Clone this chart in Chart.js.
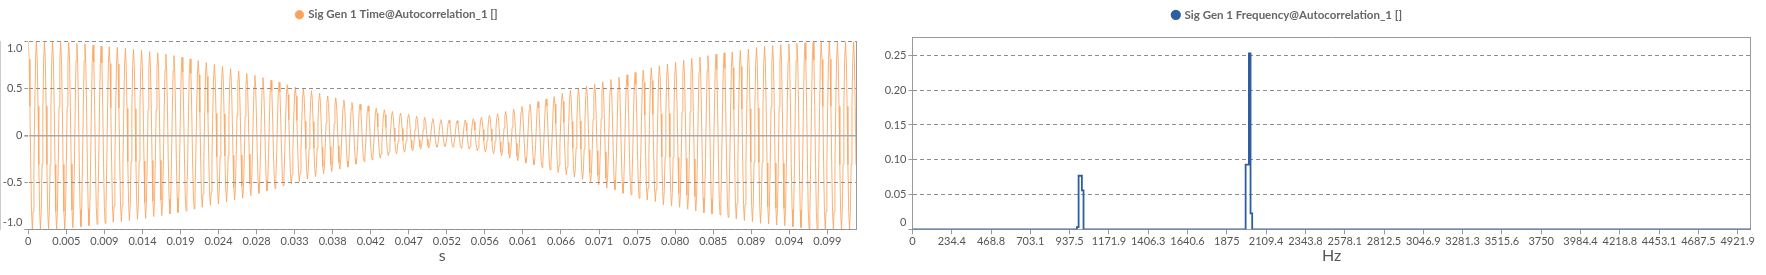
<!DOCTYPE html>
<html><head><meta charset="utf-8">
<script src="https://cdn.jsdelivr.net/npm/chart.js@4/dist/chart.umd.min.js"></script>
<style>
html,body{margin:0;padding:0;background:#fff;width:1766px;height:275px;overflow:hidden;}
#c1{position:absolute;left:0;top:0;}
#c2{position:absolute;left:870px;top:0;}
</style></head><body>
<canvas id="c1" width="870" height="275"></canvas>
<canvas id="c2" width="896" height="275"></canvas>
<script>
// ---------- Time chart (autocorrelation) ----------
const timeTitle = 'Sig Gen 1 Time@Autocorrelation_1 []';
const timeSampleInterval = 0.0001;   // s between samples
const timeAxisMax = 0.1023;          // s
// sample levels seen inside every ~1 ms period, as a fraction of that period's peak / trough
const timeCycleLevels = [1, 0.81, 0.31, -0.31, -0.81, -1, -0.81, -0.31, 0.31, 0.81];
// peak value of each period
const timePeaks = [
  1.0, 1.0, 1.0, 1.0, 0.99, 0.99, 0.98, 0.975, 0.962, 0.951,
  0.944, 0.937, 0.927, 0.916, 0.906, 0.892, 0.878, 0.867, 0.85, 0.832,
  0.815, 0.797, 0.776, 0.755, 0.734, 0.71, 0.685, 0.66, 0.64, 0.615,
  0.587, 0.566, 0.54, 0.515, 0.497, 0.476, 0.448, 0.42, 0.4, 0.378,
  0.35, 0.332, 0.315, 0.29, 0.273, 0.255, 0.238, 0.224, 0.205, 0.192,
  0.178, 0.168, 0.161, 0.157, 0.165, 0.178, 0.192, 0.213, 0.231, 0.255,
  0.28, 0.308, 0.332, 0.36, 0.388, 0.413, 0.448, 0.479, 0.5, 0.524,
  0.545, 0.57, 0.595, 0.62, 0.645, 0.67, 0.695, 0.72, 0.74, 0.76,
  0.78, 0.8, 0.82, 0.835, 0.85, 0.865, 0.88, 0.89, 0.905, 0.92,
  0.935, 0.948, 0.957, 0.965, 0.973, 0.98, 0.987, 0.992, 0.997, 1.0,
  1.0, 1.0, 1.0
];
// trough value of each period
const timeTroughs = [
  -1.0, -1.0, -1.0, -1.0, -1.0, -0.982, -0.972, -0.961, -0.947, -0.936,
  -0.925, -0.918, -0.907, -0.893, -0.883, -0.865, -0.854, -0.836, -0.822, -0.804,
  -0.783, -0.765, -0.744, -0.73, -0.705, -0.687, -0.669, -0.641, -0.616, -0.591,
  -0.566, -0.537, -0.516, -0.491, -0.466, -0.438, -0.409, -0.384, -0.359, -0.338,
  -0.306, -0.278, -0.26, -0.242, -0.217, -0.196, -0.178, -0.164, -0.146, -0.135,
  -0.125, -0.117, -0.125, -0.135, -0.146, -0.164, -0.178, -0.196, -0.217, -0.242,
  -0.27, -0.295, -0.313, -0.342, -0.367, -0.395, -0.42, -0.445, -0.47, -0.495,
  -0.527, -0.562, -0.58, -0.616, -0.633, -0.669, -0.687, -0.705, -0.74, -0.751,
  -0.765, -0.786, -0.804, -0.822, -0.836, -0.847, -0.872, -0.89, -0.907, -0.918,
  -0.936, -0.943, -0.954, -0.961, -0.972, -0.982, -0.993, -1.0, -1.0, -1.0,
  -1.0, -1.0, -1.0
];
const timeTickLabels = ['0','0.005','0.009','0.014','0.019','0.024','0.028','0.033','0.038','0.042','0.047','0.052','0.056','0.061','0.066','0.071','0.075','0.080','0.085','0.089','0.094','0.099'];
const timeTickStep = 0.0047027;
const timeYTicks = [-1, -0.5, 0, 0.5, 1];
const timeYLabels = ['-1.0', '-0.5', '0', '0.5', '1.0'];

// ---------- Frequency chart ----------
const freqTitle = 'Sig Gen 1 Frequency@Autocorrelation_1 []';
const freqHz  = [0, 976.6, 986.3, 996.1, 1005.9, 1015.6, 1025.4, 1982.4, 1992.2, 2001.9, 2011.7, 2021.5, 2031.3, 5000];
const freqMag = [0, 0, 0.003, 0.077, 0.077, 0.056, 0, 0, 0.093, 0.093, 0.253, 0.023, 0, 0];
const freqTickLabels = ['0','234.4','468.8','703.1','937.5','1171.9','1406.3','1640.6','1875','2109.4','2343.8','2578.1','2812.5','3046.9','3281.3','3515.6','3750','3984.4','4218.8','4453.1','4687.5','4921.9'];
const freqTickStep = 234.375;
const freqYTicks = [0, 0.05, 0.1, 0.15, 0.2, 0.25];
const freqYLabels = ['0', '0.05', '0.10', '0.15', '0.20', '0.25'];

// ---------- build point lists ----------
const timePoints = [];
for (let c = 0; c < timePeaks.length; c++) {
  for (let k = 0; k < timeCycleLevels.length; k++) {
    const n = c * timeCycleLevels.length + k;
    const t = n * timeSampleInterval;
    if (t > timeAxisMax + 1e-9) break;
    const lv = timeCycleLevels[k];
    let y;
    if (lv < 0) y = -lv * timeTroughs[c];
    else if (k < timeCycleLevels.length / 2) y = lv * timePeaks[c];
    else y = lv * (timePeaks[c + 1] !== undefined ? timePeaks[c + 1] : timePeaks[c]);
    timePoints.push({x: t, y: y});
  }
}
const freqPoints = freqHz.map((f, i) => ({x: f, y: freqMag[i]}));

// ---------- styling ----------
Chart.defaults.font.family = 'Lato, "Open Sans", sans-serif';
const tickFont = {size: 11};
const tickColor = '#555';
const gridGray = '#8e8e8e';
const frameGray = '#9a9a9a';

const legendShift = {
  id: 'legendShift',
  afterLayout(chart, args, opts) {
    const lg = chart.legend;
    if (!lg) return;
    lg.left += opts.dx; lg.right += opts.dx;
    lg.top += opts.dy; lg.bottom += opts.dy;
  }
};

function legendOpts() {
  return {
    display: true, position: 'top',
    labels: {usePointStyle: true, pointStyle: 'circle', boxWidth: 6, boxHeight: 6,
             padding: 10, color: '#666', font: {size: 11.5, weight: 'bold'}}
  };
}

function frameAxis(pos) {
  return {
    type: 'linear', position: pos, display: true,
    ticks: {display: false}, grid: {drawOnChartArea: false, drawTicks: false},
    border: {display: true, color: frameGray, width: 1},
    afterFit(s) { if (pos === 'top') s.height = 0; else s.width = 0; }
  };
}

// labels at the plot edge sit inside it, as in the original
function edgeLabel(labels, i, topInside) {
  const t = labels[i];
  if (i === 0) return [t, ''];
  if (topInside && i === labels.length - 1) return ['', t];
  return t;
}

// ---------- left chart ----------
new Chart(document.getElementById('c1'), {
  type: 'line',
  data: {datasets: [{
    label: timeTitle, data: timePoints,
    borderColor: 'rgb(249,168,100)', backgroundColor: 'rgb(248,163,88)',
    borderWidth: 0.9, pointRadius: 0, tension: 0, fill: false
  }]},
  options: {
    responsive: false, animation: false, devicePixelRatio: 1,
    layout: {padding: {left: 0, right: 14, top: 10, bottom: 0}},
    plugins: {legend: legendOpts(), tooltip: {enabled: false}, legendShift: {dx: -31, dy: -11}},
    scales: {
      x: {
        type: 'linear', position: 'bottom', min: 0, max: timeAxisMax,
        afterBuildTicks(s) { s.ticks = timeTickLabels.map((_, i) => ({value: i * timeTickStep})); },
        ticks: {autoSkip: false, maxRotation: 0, color: tickColor, font: tickFont, padding: 1,
                callback: (v, i) => timeTickLabels[i]},
        grid: {drawOnChartArea: false, drawTicks: true, tickLength: 5, tickColor: frameGray},
        border: {display: true, color: frameGray, width: 1},
        title: {display: true, text: 's', color: '#555', font: {size: 16}, padding: {top: 0, bottom: 10}},
        afterFit(s) { s.height = 45.7; }
      },
      y: {
        type: 'linear', position: 'left', min: -1, max: 1,
        afterBuildTicks(s) { s.ticks = timeYTicks.map(v => ({value: v})); },
        ticks: {autoSkip: false, color: tickColor, font: tickFont, padding: 2,
                callback: (v, i) => edgeLabel(timeYLabels, i, true)},
        grid: {z: 1, tickLength: 4, tickColor: frameGray,
               color: c => (c.tick && c.tick.value === 0) ? '#a9a9a9' : gridGray,
               lineWidth: c => (c.tick && c.tick.value === 0) ? 1.6 : 1},
        border: {display: true, color: frameGray, width: 1,
                 dash: c => (c.tick && c.tick.value === 0) ? [] : [4, 3]},
        afterFit(s) { s.width = 28.3; }
      },
      yR: frameAxis('right')
    }
  },
  plugins: [legendShift]
});

// ---------- right chart ----------
new Chart(document.getElementById('c2'), {
  type: 'line',
  data: {datasets: [{
    label: freqTitle, data: freqPoints, stepped: 'middle',
    borderColor: 'rgb(46,94,160)', backgroundColor: 'rgb(46,94,160)',
    borderWidth: 1.8, pointRadius: 0, tension: 0, fill: false
  }]},
  options: {
    responsive: false, animation: false, devicePixelRatio: 1,
    layout: {padding: {left: 0, right: 15.2, top: 6.3, bottom: 0}},
    plugins: {legend: legendOpts(), tooltip: {enabled: false}, legendShift: {dx: -23, dy: -7.2}},
    scales: {
      x: {
        type: 'linear', position: 'bottom', min: 0, max: 5000,
        afterBuildTicks(s) { s.ticks = freqTickLabels.map((_, i) => ({value: i * freqTickStep})); },
        ticks: {autoSkip: false, maxRotation: 0, color: tickColor, font: tickFont, padding: 1,
                callback: (v, i) => freqTickLabels[i]},
        grid: {drawOnChartArea: false, drawTicks: true, tickLength: 5, tickColor: frameGray},
        border: {display: true, color: frameGray, width: 1},
        title: {display: true, text: 'Hz', color: '#555', font: {size: 16}, padding: {top: 0, bottom: 10}},
        afterFit(s) { s.height = 45.7; }
      },
      y: {
        type: 'linear', position: 'left', min: 0, max: 0.2754,
        afterBuildTicks(s) { s.ticks = freqYTicks.map(v => ({value: v})); },
        ticks: {autoSkip: false, color: tickColor, font: tickFont, padding: 2,
                callback: (v, i) => edgeLabel(freqYLabels, i, false)},
        grid: {tickLength: 4, tickColor: frameGray, color: gridGray, lineWidth: 1},
        border: {display: true, color: frameGray, width: 1, dash: [4, 3]},
        afterFit(s) { s.width = 42.4; }
      },
      xT: frameAxis('top'),
      yR: frameAxis('right')
    }
  },
  plugins: [legendShift]
});
</script></body></html>
